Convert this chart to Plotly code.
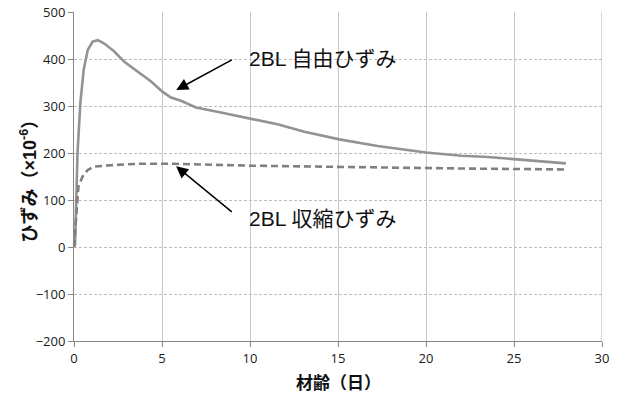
import plotly.graph_objects as go

# 材齢（日）と自由ひずみ（×10^-6）
free_age = [0.0, 0.06, 0.2, 0.36, 0.55, 0.78, 1.06, 1.35, 1.72, 2.29, 2.86, 3.62,
            4.38, 5.04, 5.51, 6.08, 6.93, 8.35, 10.0, 11.57, 13.09, 14.03, 15.08,
            17.25, 20.0, 22.0, 23.3, 25.0, 27.95]
free_strain = [0, 5, 200, 306, 377, 419, 437, 440, 433, 416, 394, 373,
               352, 330, 318, 311, 297, 286, 274, 261, 245, 238, 229,
               215, 201, 194, 192, 187, 178]

# 材齢（日）と収縮ひずみ（×10^-6）
shr_age = [0.0, 0.1, 0.17, 0.25, 0.49, 0.78, 1.15, 2.1, 3.62, 5.04, 5.7,
           10.0, 13.4, 20.0, 22.0, 25.0, 27.95]
shr_strain = [0, 50, 86, 128, 150, 164, 171, 174, 177, 178, 177,
              173, 171, 167.5, 167, 166, 165]

x_ticks = [0, 5, 10, 15, 20, 25, 30]
y_ticks = [-200, -100, 0, 100, 200, 300, 400, 500]

JP = "Liberation Sans, Noto Sans CJK JP"
TICK = "Open Sans, Noto Sans CJK JP"

fig = go.Figure()
fig.add_trace(go.Scatter(x=free_age, y=free_strain, mode="lines",
                         line=dict(color="#939393", width=2.6), name="2BL 自由ひずみ"))
fig.add_trace(go.Scatter(x=shr_age, y=shr_strain, mode="lines",
                         line=dict(color="#808080", width=2.6, dash="7px,4px"),
                         name="2BL 収縮ひずみ"))

fig.update_layout(
    width=620, height=394,
    margin=dict(l=74, r=18, t=12, b=53, autoexpand=False),
    paper_bgcolor="white", plot_bgcolor="white",
    showlegend=False,
    xaxis=dict(range=[0, 30], tickvals=x_ticks, showgrid=True, gridcolor="#c8c8c8",
               gridwidth=1, zeroline=False, showline=True, linecolor="#868686",
               linewidth=1, ticks="outside", ticklen=5, tickcolor="#868686",
               automargin=False,
               tickfont=dict(family=TICK, size=13, color="#1a1a1a")),
    yaxis=dict(range=[-200, 500], tickvals=y_ticks, showgrid=True, gridcolor="#bdbdbd",
               griddash="3px,2px", gridwidth=1, zeroline=False, showline=True,
               linecolor="#868686", linewidth=1, ticks="outside", ticklen=5,
               tickcolor="#868686", automargin=False,
               tickfont=dict(family=TICK, size=13, color="#1a1a1a")),
)

# 軸タイトル
fig.add_annotation(xref="paper", yref="paper", x=-45 / 528, y=0.5, xanchor="center",
                   yanchor="middle", textangle=-90, showarrow=False,
                   text="<b>ひずみ（×10<sup>-6</sup>）</b>",
                   font=dict(family=JP, size=18, color="#111111"))
fig.add_annotation(xref="paper", yref="paper", x=0.5, y=-42 / 329, xanchor="center",
                   yanchor="middle", showarrow=False, text="<b>材齢（日）</b>",
                   font=dict(family=JP, size=17, color="#111111"))

# 右端の枠線
fig.add_shape(type="line", xref="x", yref="paper", x0=30, x1=30, y0=0, y1=1,
              line=dict(color="#b0b0b0", width=1))

# 注記と矢印
fig.add_annotation(x=5.81, y=334, ax=9.05, ay=400, xref="x", yref="y", axref="x", ayref="y",
                   text="", showarrow=True, arrowhead=2, arrowsize=1.6, arrowwidth=1.5,
                   arrowcolor="#000000")
fig.add_annotation(x=9.85, y=394, xref="x", yref="y", text="2BL 自由ひずみ",
                   showarrow=False, xanchor="left", yanchor="middle", yshift=3,
                   font=dict(family=JP, size=21, color="#111111"))
fig.add_annotation(x=5.8, y=172, ax=9.05, ay=72, xref="x", yref="y", axref="x", ayref="y",
                   text="", showarrow=True, arrowhead=2, arrowsize=1.6, arrowwidth=1.5,
                   arrowcolor="#000000")
fig.add_annotation(x=9.85, y=54, xref="x", yref="y", text="2BL 収縮ひずみ",
                   showarrow=False, xanchor="left", yanchor="middle", yshift=3,
                   font=dict(family=JP, size=21, color="#111111"))

fig.write_html("out.html")
